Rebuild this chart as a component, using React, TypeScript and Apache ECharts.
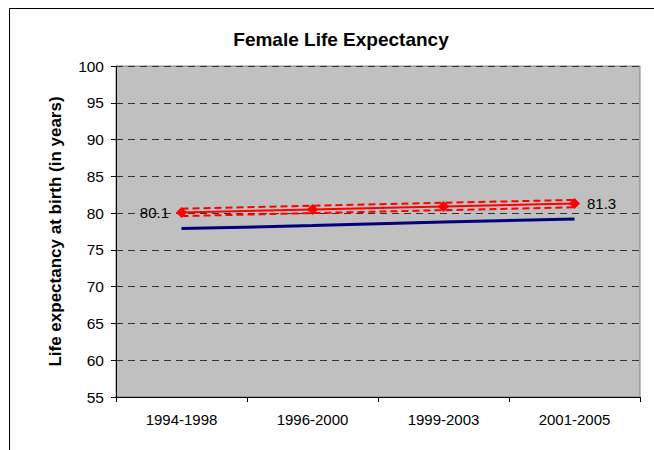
import React, { useEffect, useRef } from "react";
import * as echarts from "echarts";

const categories = ["1994-1998", "1996-2000", "1999-2003", "2001-2005"];
const female = [80.1, 80.5, 80.9, 81.3];
const upper = [80.6, 81.0, 81.4, 81.8];
const lower = [79.6, 80.0, 80.4, 80.8];
const comparison = [77.9, 78.3, 78.8, 79.2];

export default function App() {
  const ref = useRef<HTMLDivElement>(null);
  useEffect(() => {
    const chart = echarts.init(ref.current!, null, { renderer: "svg" });
    const font = "Liberation Sans, Arial, sans-serif";
    chart.setOption({
      animation: false,
      backgroundColor: "#ffffff",
      textStyle: { fontFamily: font },
      title: {
        text: "Female Life Expectancy",
        left: 336,
        top: 25,
        textAlign: "center",
        textStyle: { fontSize: 19, fontWeight: "bold", color: "#000", fontFamily: font },
      },
      graphic: [
        { type: "line", shape: { x1: 9.5, y1: 8.5, x2: 660, y2: 8.5 }, style: { stroke: "#000", lineWidth: 1 } },
        { type: "line", shape: { x1: 9.5, y1: 8.5, x2: 9.5, y2: 460 }, style: { stroke: "#000", lineWidth: 1 } },
      ],
      grid: {
        left: 116,
        right: 14,
        top: 66,
        bottom: 53,
        show: true,
        backgroundColor: "#C0C0C0",
        borderColor: "#808080",
        borderWidth: 1,
      },
      xAxis: {
        type: "category",
        data: categories,
        boundaryGap: true,
        axisLine: { lineStyle: { color: "#000", width: 1 } },
        axisTick: { show: true, length: 5, lineStyle: { color: "#000" } },
        axisLabel: { color: "#000", fontSize: 15, margin: 15, fontFamily: font },
      },
      yAxis: {
        type: "value",
        min: 55,
        max: 100,
        interval: 5,
        name: "Life expectancy at birth (in years)",
        nameLocation: "middle",
        nameGap: 52,
        nameTextStyle: { fontSize: 17, fontWeight: "bold", color: "#000", fontFamily: font },
        axisLine: { show: true, lineStyle: { color: "#000", width: 1 } },
        axisTick: { show: true, length: 5, lineStyle: { color: "#000" } },
        axisLabel: { color: "#000", fontSize: 15.5, margin: 12, fontFamily: font },
        splitLine: { show: true, lineStyle: { color: "#333", type: [7, 5], width: 1 } },
      },
      series: [
        {
          type: "line",
          data: comparison,
          symbol: "none",
          lineStyle: { color: "#000080", width: 3 },
          z: 2,
        },
        {
          type: "line",
          data: upper,
          symbol: "none",
          lineStyle: { color: "#FF0000", width: 2, type: [7, 4] },
          z: 3,
        },
        {
          type: "line",
          data: lower,
          symbol: "none",
          lineStyle: { color: "#FF0000", width: 2, type: [7, 4] },
          z: 3,
        },
        {
          type: "line",
          data: female.map((v, i) => ({
            value: v,
            label: {
              show: i === 0 || i === female.length - 1,
              position: i === 0 ? "left" : "right",
              distance: 7,
              color: "#000",
              fontSize: 15,
              fontFamily: font,
              formatter: (p: any) => p.value.toFixed(1),
            },
          })),
          symbol: "diamond",
          symbolSize: 11,
          itemStyle: { color: "#FF0000" },
          lineStyle: { color: "#FF0000", width: 2 },
          z: 4,
        },
      ],
    });
    return () => chart.dispose();
  }, []);
  return (
    <div
      ref={ref}
      style={{ position: "absolute", left: 0, top: 0, width: 654, height: 450 }}
    />
  );
}
